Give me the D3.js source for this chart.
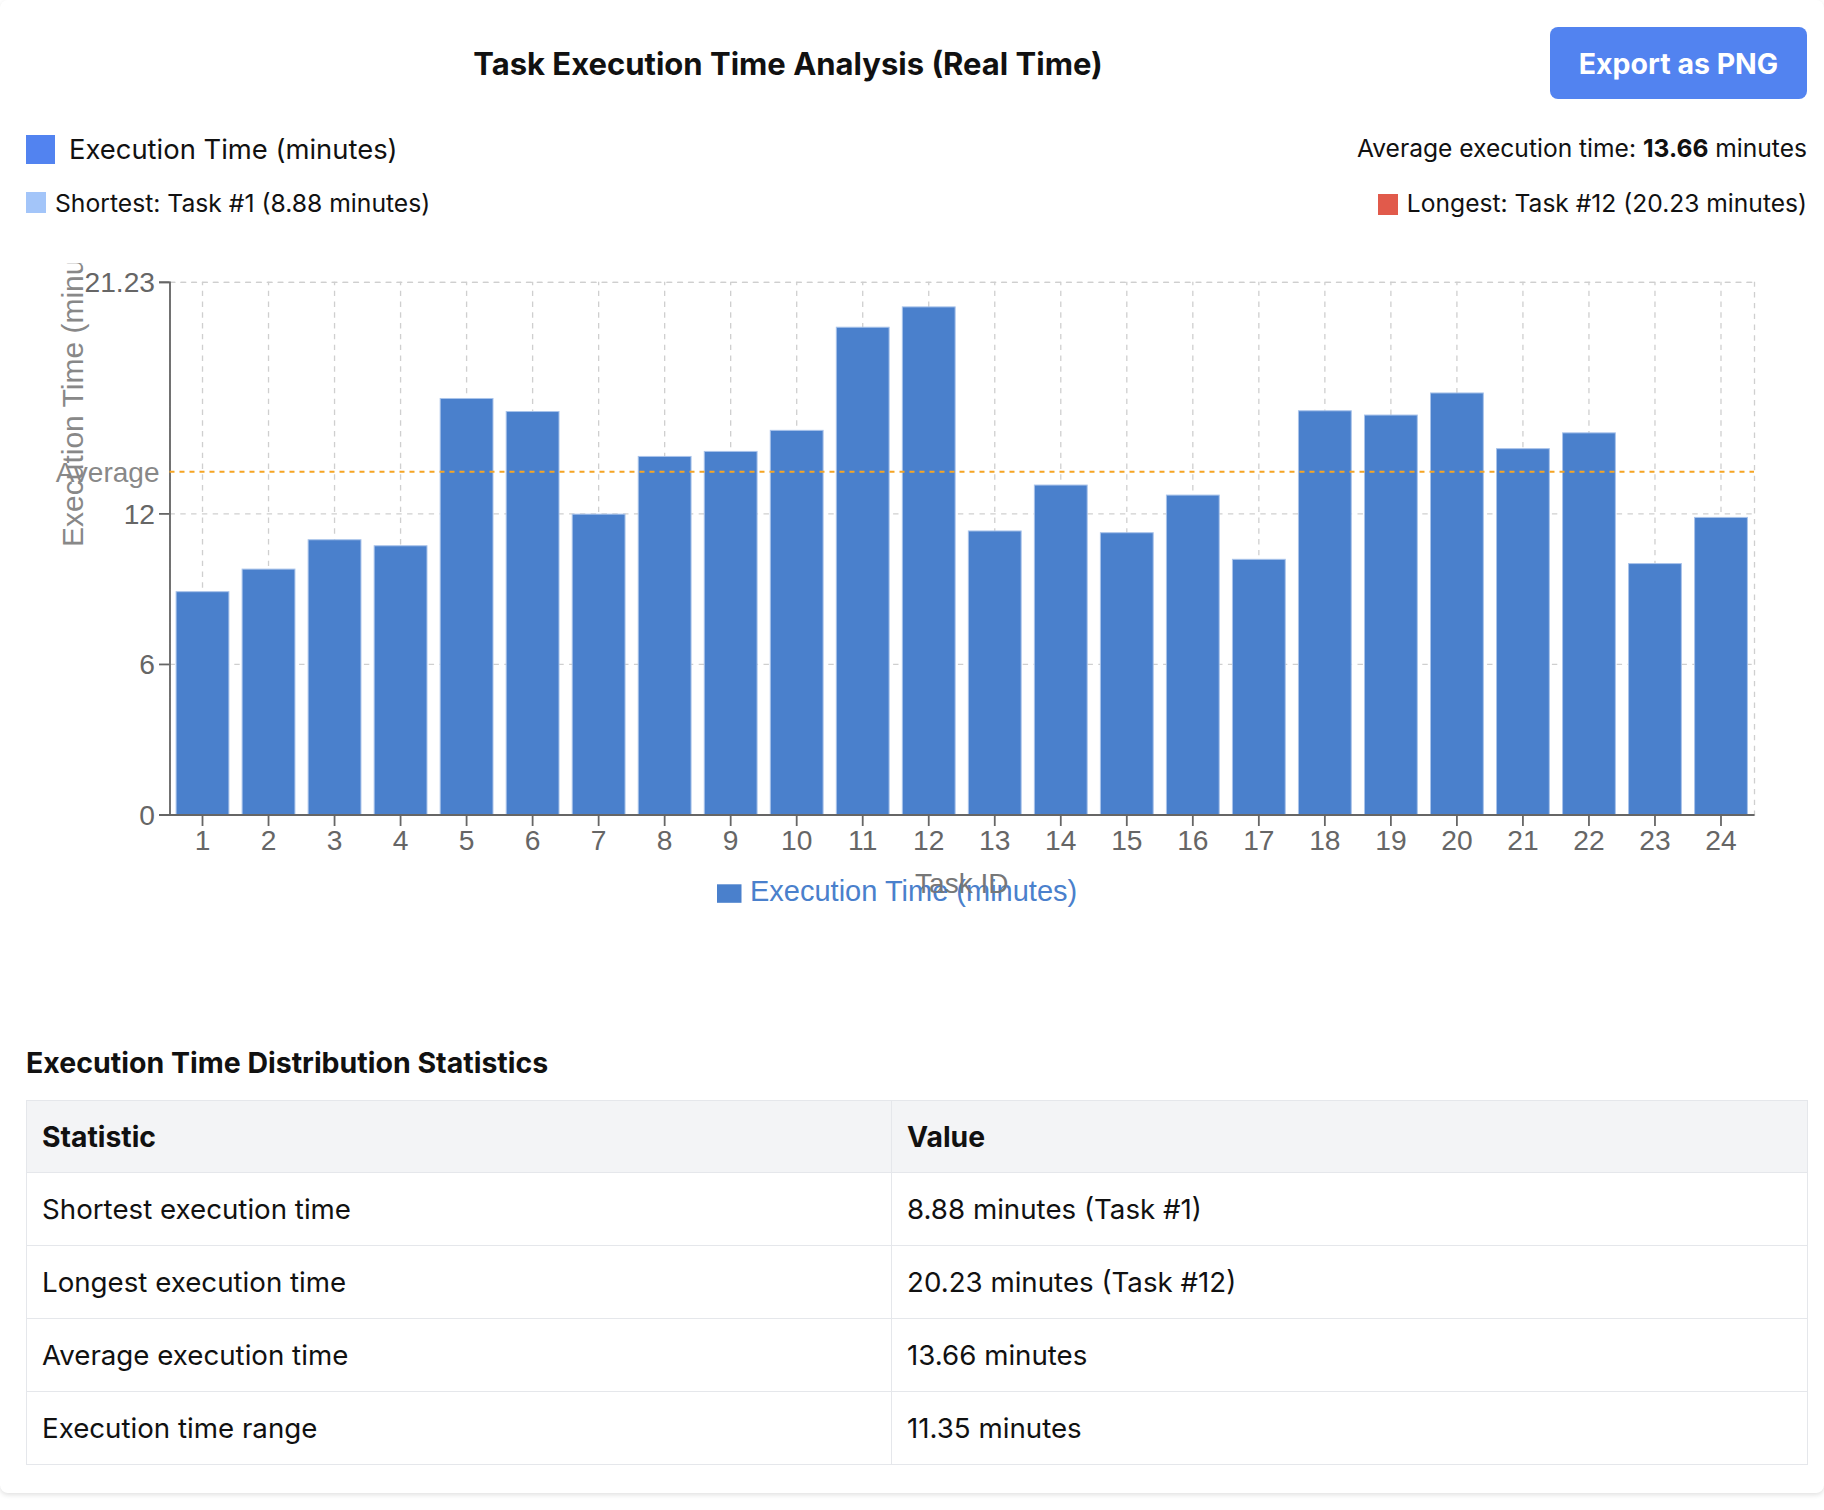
<!DOCTYPE html>
<html>
<head>
<meta charset="utf-8">
<script src="https://cdn.jsdelivr.net/npm/d3@7"></script>
<style>
  html, body { margin: 0; padding: 0; background: #fff; }
  body { width: 1824px; height: 1510px; position: relative; overflow: hidden; font-family: Inter, "Noto Sans", sans-serif; color: #111; }
  .card { position: absolute; left: 0; top: 0; width: 1824px; height: 1493px; border-radius: 8px; background: #fff; box-shadow: 0 2px 5px rgba(0,0,0,0.12); }
  .abs { position: absolute; line-height: 1; white-space: nowrap; }
  .title { font-weight: 700; font-size: 31px; text-align: center; }
  .btn { position: absolute; background: #5283f0; color: #fff; border-radius: 8px; font-weight: 700; font-size: 28.5px; display: flex; align-items: center; justify-content: center; }
  .sw { position: absolute; }
  table { position: absolute; border-collapse: collapse; table-layout: fixed; font-size: 27.7px; }
  td, th { border: 1px solid #e5e7eb; padding: 0 15px; text-align: left; vertical-align: middle; }
  th { background: #f3f4f6; font-weight: 700; font-size: 28.3px; }
  svg text { font-family: "Liberation Sans", Arial, Helvetica, sans-serif; }
</style>
</head>
<body>
<div class="card"></div>
<div id="page"></div>
<script>
// ---------------- data ----------------
const taskIds = [1,2,3,4,5,6,7,8,9,10,11,12,13,14,15,16,17,18,19,20,21,22,23,24];
const execTimes = [8.88, 9.78, 10.95, 10.71, 16.58, 16.06, 11.97, 14.27, 14.47, 15.31, 19.42, 20.23,
                   11.30, 13.13, 11.23, 12.73, 10.17, 16.09, 15.92, 16.80, 14.58, 15.21, 10.00, 11.84];
const yTickValues = [0, 6, 12, 21.23];
const yMax = 21.23;
const averageTime = 13.66;
const seriesName = "Execution Time (minutes)";
const chartTitle = "Task Execution Time Analysis (Real Time)";
const exportLabel = "Export as PNG";
const shortestText = "Shortest: Task #1 (8.88 minutes)";
const longestText = "Longest: Task #12 (20.23 minutes)";
const avgPrefix = "Average execution time: ";
const avgValueText = "13.66";
const avgSuffix = " minutes";
const xAxisTitle = "Task ID";
const yAxisTitle = "Execution Time (minutes)";
const avgLabel = "Average";
const statsHeading = "Execution Time Distribution Statistics";
const statsHeader = ["Statistic", "Value"];
const statsNames = ["Shortest execution time", "Longest execution time", "Average execution time", "Execution time range"];
const statsValues = ["8.88 minutes (Task #1)", "20.23 minutes (Task #12)", "13.66 minutes", "11.35 minutes"];

// ---------------- html parts ----------------
const page = d3.select("#page");
const INTER_ASC = 0.863;
function textAt(cls, txt, size, baseline, opts) {
  const d = page.append("div").attr("class", "abs " + (cls || ""))
    .style("font-size", size + "px")
    .style("top", (baseline - INTER_ASC * size) + "px");
  if (opts.left !== undefined) d.style("left", opts.left + "px");
  if (opts.right !== undefined) d.style("right", opts.right + "px");
  if (opts.width !== undefined) d.style("width", opts.width + "px");
  if (opts.weight) d.style("font-weight", opts.weight);
  if (txt !== null) d.text(txt);
  return d;
}

textAt("title", chartTitle, 31, 74.5, {left: 26, width: 1524});
page.append("div").attr("class", "btn")
  .style("left", "1550px").style("top", "27px").style("width", "257px").style("height", "72px")
  .text(exportLabel);

// legend row 1
page.append("div").attr("class", "sw").style("left", "26px").style("top", "135px")
  .style("width", "29px").style("height", "29px").style("background", "#5283f0");
textAt("", seriesName, 27.4, 159.5, {left: 69});
const avgDiv = textAt("", null, 24.6, 157.5, {right: 17});
avgDiv.append("span").text(avgPrefix);
avgDiv.append("b").text(avgValueText);
avgDiv.append("span").text(avgSuffix);

// legend row 2
page.append("div").attr("class", "sw").style("left", "26px").style("top", "192px")
  .style("width", "20px").style("height", "21px").style("background", "#a3c5f9");
textAt("", shortestText, 24.7, 212, {left: 55});
const longDiv = textAt("", null, 24.6, 212, {right: 17});
longDiv.append("span").style("display", "inline-block").style("width", "20px").style("height", "21px")
  .style("background", "#e15a4b").style("margin-right", "9px").style("vertical-align", "-3px");
longDiv.append("span").text(longestText);

// ---------------- chart ----------------
const svgTop = 263;
const svg = page.append("svg")
  .style("position", "absolute").style("left", "0px").style("top", svgTop + "px")
  .attr("width", 1824).attr("height", 700);

const plotLeft = 169.5, plotRight = 1754, plotTop = 281.8 - svgTop, plotBottom = 814.5 - svgTop;
const W = plotRight - plotLeft, H = plotBottom - plotTop;
const g = svg.append("g").attr("transform", `translate(${plotLeft},${plotTop})`);

const x = d3.scaleBand().domain(taskIds).range([0, W]).paddingInner(0.2).paddingOuter(0.1);
const y = d3.scaleLinear().domain([0, yMax]).range([H, 0]);

// grid
g.append("g").attr("class", "grid")
  .call(d3.axisLeft(y).tickValues(yTickValues).tickSize(-W).tickSizeOuter(-W).tickFormat(""));
g.append("g").attr("class", "grid").attr("transform", `translate(0,${H})`)
  .call(d3.axisBottom(x).tickSize(-H).tickSizeOuter(-H).tickFormat(""));
g.selectAll(".grid line, .grid path").attr("stroke", "#cfcfcf").attr("stroke-width", 1.3)
  .attr("stroke-dasharray", "5.4,5.4").attr("fill", "none");

// bars
g.selectAll("rect.bar").data(taskIds).enter().append("rect").attr("class", "bar")
  .attr("x", d => x(d)).attr("width", x.bandwidth())
  .attr("y", (d, i) => y(execTimes[i])).attr("height", (d, i) => H - y(execTimes[i]))
  .attr("fill", "#4a80cc").attr("stroke", "#a9c3ea").attr("stroke-width", 1);

// axes
const xAxis = g.append("g").attr("transform", `translate(0,${H})`)
  .call(d3.axisBottom(x).tickSize(11.5).tickPadding(4).tickSizeOuter(0));
const yAxis = g.append("g")
  .call(d3.axisLeft(y).tickValues(yTickValues).tickFormat(d => d).tickSize(10.5).tickPadding(4).tickSizeOuter(10.5));
[xAxis, yAxis].forEach(a => {
  a.selectAll("path, line").attr("stroke", "#666").attr("stroke-width", 1.8);
  a.selectAll("text").attr("fill", "#666").style("font-size", "28.2px");
});
yAxis.selectAll("text").attr("dy", "0.35em");

// average line
g.append("line").attr("x1", 0).attr("x2", W).attr("y1", y(averageTime)).attr("y2", y(averageTime))
  .attr("stroke", "#f5a524").attr("stroke-width", 1.8).attr("stroke-dasharray", "5,5");
g.append("text").attr("x", -10).attr("y", y(averageTime)).attr("dy", "0.35em")
  .attr("text-anchor", "end").attr("fill", "#888").style("font-size", "28px").text(avgLabel);

// y axis title (starts at vertical middle, grows upward)
svg.append("text").attr("transform", "rotate(-90)")
  .attr("x", -(547 - svgTop)).attr("y", 82.5)
  .attr("fill", "#888").style("font-size", "30px").text(yAxisTitle);

// bottom legend
svg.append("rect").attr("x", 717).attr("y", 884.3 - svgTop).attr("width", 24.5).attr("height", 18.5).attr("fill", "#4a80cc");
svg.append("text").attr("x", 750).attr("y", 901 - svgTop).attr("fill", "#4a80cc").style("font-size", "29px").text(seriesName);

// x axis title
svg.append("text").attr("x", plotLeft + W / 2).attr("y", 893.3 - svgTop).attr("text-anchor", "middle")
  .attr("fill", "#777").style("font-size", "28px").text(xAxisTitle);

// ---------------- stats table ----------------
textAt("", statsHeading, 28.5, 1073.3, {left: 26, weight: 700});
const table = page.append("table").style("left", "26px").style("top", "1100px").style("width", "1781px");
const cg = table.append("colgroup");
cg.append("col").style("width", "865px");
cg.append("col").style("width", "916px");
const thr = table.append("tr").style("height", "72px");
statsHeader.forEach(h => thr.append("th").text(h));
statsNames.forEach((n, i) => {
  const tr = table.append("tr").style("height", "73px");
  tr.append("td").text(n);
  tr.append("td").text(statsValues[i]);
});
</script>
</body>
</html>
